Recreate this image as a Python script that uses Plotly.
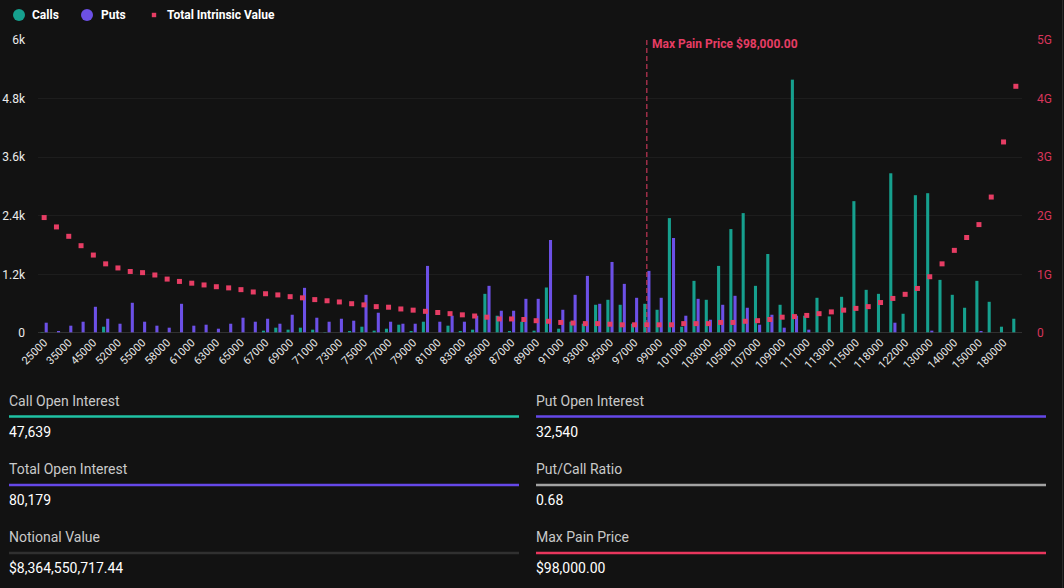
import plotly.graph_objects as go

# ---------------- data ----------------
strikes = [25000, 30000, 35000, 40000, 45000, 50000, 52000, 54000, 55000, 56000,
           58000, 60000] + list(range(61000, 116000, 1000)) + \
          [116000, 118000, 120000, 122000, 125000, 130000, 135000, 140000, 145000,
           150000, 160000, 180000, 200000]

calls = [20, 0, 0, 0, 0, 129, 0, 0, 0, 0,
         0, 0, 0, 0, 0, 0, 0, 0, 48, 109,
         68, 109, 68, 20, 0, 27, 129, 48, 88, 170,
         27, 231, 0, 150, 27, 68, 802, 354, 27, 231,
         48, 932, 88, 231, 190, 578, 680, 578, 190, 598,
         476, 2353, 129, 1068, 680, 1374, 2128, 2455, 966, 1618,
         578, 5188, 354, 721, 340, 741, 2700, 884, 802, 3271,
         394, 2822, 2863, 1088, 782, 517, 1068, 639, 129, 292]

puts = [211, 27, 150, 231, 537, 292, 190, 619, 231, 150,
        109, 598, 150, 170, 88, 190, 313, 231, 292, 190,
        374, 925, 313, 231, 292, 252, 782, 415, 231, 190,
        190, 1374, 231, 354, 231, 354, 966, 456, 456, 700,
        700, 1904, 476, 782, 1170, 598, 1455, 1006, 721, 1272,
        721, 1945, 354, 700, 272, 578, 762, 517, 170, 374,
        109, 354, 68, 0, 0, 0, 0, 0, 0, 211,
        0, 0, 48, 0, 0, 0, 27, 0, 0, 0]

intrinsic_g = [1.97, 1.81, 1.65, 1.49, 1.33, 1.18, 1.11, 1.05, 1.03, 0.99,
               0.92, 0.88, 0.85, 0.82, 0.79, 0.77, 0.74, 0.70, 0.67, 0.65,
               0.62, 0.60, 0.57, 0.55, 0.53, 0.50, 0.48, 0.45, 0.44, 0.41,
               0.39, 0.37, 0.35, 0.33, 0.31, 0.29, 0.27, 0.24, 0.24, 0.23,
               0.21, 0.20, 0.18, 0.17, 0.16, 0.16, 0.15, 0.14, 0.14, 0.14,
               0.14, 0.14, 0.16, 0.16, 0.16, 0.18, 0.18, 0.20, 0.21, 0.23,
               0.27, 0.28, 0.30, 0.33, 0.36, 0.39, 0.42, 0.45, 0.52, 0.59,
               0.66, 0.76, 0.96, 1.18, 1.41, 1.63, 1.85, 2.32, 3.26, 4.21]
intrinsic = [v * 1e9 for v in intrinsic_g]

categories = [str(s) for s in strikes]
tick_labels = categories[::2]

left_ticks = [0, 1200, 2400, 3600, 4800, 6000]
left_tick_text = ["0", "1.2k", "2.4k", "3.6k", "4.8k", "6k"]
right_ticks = [0, 1e9, 2e9, 3e9, 4e9, 5e9]
right_tick_text = ["0", "1G", "2G", "3G", "4G", "5G"]

max_pain = 98000

stats = [
    ("Call Open Interest", "47,639", "#1fc2a4"),
    ("Put Open Interest", "32,540", "#6548e8"),
    ("Total Open Interest", "80,179", "#6548e8"),
    ("Put/Call Ratio", "0.68", "#a3a3a3"),
    ("Notional Value", "$8,364,550,717.44", "#303030"),
    ("Max Pain Price", "$98,000.00", "#e8365d"),
]

# ---------------- style ----------------
BG = "#121212"
TEAL = "#16a08e"
PURPLE = "#6c50e6"
PINK = "#e63d64"
FONT = "Roboto"

W, H = 1064, 588
PL, PR, PT, PB = 38, 1022, 40, 333  # plot area in pixels


def X(px):
    return (px - PL) / (PR - PL)


def Y(py):
    return (PB - py) / (PB - PT)


fig = go.Figure()
fig.add_trace(go.Bar(x=categories, y=calls, name="Calls", marker_color=TEAL,
                     marker_line_width=0, showlegend=False))
fig.add_trace(go.Bar(x=categories, y=puts, name="Puts", marker_color=PURPLE,
                     marker_line_width=0, showlegend=False))
fig.add_trace(go.Scatter(x=categories, y=intrinsic, name="Total Intrinsic Value",
                         mode="markers", yaxis="y2", showlegend=False,
                         marker=dict(symbol="square", size=5, color=PINK)))

shapes = []
annotations = []

# baseline
shapes.append(dict(type="line", xref="paper", yref="y", x0=0, x1=1, y0=0, y1=0,
                   line=dict(color="#3d3d3d", width=1.5)))
# max pain line
mp_idx = strikes.index(max_pain)
shapes.append(dict(type="line", xref="x", yref="paper", x0=mp_idx, x1=mp_idx,
                   y0=0, y1=1, line=dict(color=PINK, width=1, dash="5px,3px")))
annotations.append(dict(x=mp_idx, xref="x", y=Y(44), yref="paper",
                        text="<b>Max Pain Price $%s.00</b>" % format(max_pain, ","),
                        showarrow=False, xanchor="left", yanchor="middle", xshift=3,
                        font=dict(family=FONT, size=12, color=PINK)))

# legend (drawn manually)
legend_items = [("Calls", TEAL, "circle", 19, 32),
                ("Puts", PURPLE, "circle", 87, 101),
                ("Total Intrinsic Value", PINK, "square", 154, 167)]
for name, col, kind, cx, tx in legend_items:
    r = 6 if kind == "circle" else 2.2
    shapes.append(dict(type="circle" if kind == "circle" else "rect",
                       xref="paper", yref="paper",
                       x0=X(cx - r), x1=X(cx + r), y0=Y(15 + r), y1=Y(15 - r),
                       fillcolor=col, line=dict(width=0)))
    annotations.append(dict(x=X(tx), y=Y(15), xref="paper", yref="paper",
                            text="<b>%s</b>" % name, showarrow=False,
                            xanchor="left", yanchor="middle", xshift=-2,
                            font=dict(family=FONT, size=12, color="#ffffff")))

# stats panel
col_x = [(9, 519), (536, 1046)]
row_y = [(401, 416.5, 432), (469, 485, 500), (537, 553, 568)]
for i, (label, value, col) in enumerate(stats):
    r, c = divmod(i, 2)
    x0, x1 = col_x[c]
    ly, liney, vy = row_y[r]
    annotations.append(dict(x=X(x0), y=Y(ly), xref="paper", yref="paper",
                            text=label, showarrow=False, xanchor="left",
                            yanchor="middle", xshift=-2,
                            font=dict(family=FONT, size=14, color="#c9c9c9")))
    annotations.append(dict(x=X(x0), y=Y(vy), xref="paper", yref="paper",
                            text=value, showarrow=False, xanchor="left",
                            yanchor="middle", xshift=-2,
                            font=dict(family=FONT, size=14, color="#ffffff")))
    shapes.append(dict(type="line", xref="paper", yref="paper",
                       x0=X(x0), x1=X(x1), y0=Y(liney), y1=Y(liney),
                       line=dict(color=col, width=2.5)))

# right edge border
shapes.append(dict(type="line", xref="paper", yref="paper",
                   x0=X(1062.5), x1=X(1062.5), y0=Y(0), y1=Y(588),
                   line=dict(color="#2a2a2a", width=1)))

fig.update_layout(
    width=W, height=H,
    margin=dict(l=PL, r=W - PR, t=PT, b=H - PB, pad=0, autoexpand=False),
    paper_bgcolor=BG, plot_bgcolor=BG,
    barmode="group", bargap=0.33, bargroupgap=0.25,
    font=dict(family=FONT, color="#e0e0e0"),
    showlegend=False,
    xaxis=dict(type="category", range=[-0.5, len(categories) - 0.5],
               automargin=False,
               tickmode="array", tickvals=tick_labels,
               ticktext=tick_labels, tickangle=-45, showgrid=False,
               zeroline=False, showline=False, ticks="",
               tickfont=dict(family=FONT, size=11, color="#e6e6e6")),
    yaxis=dict(range=[0, 6000], tickmode="array", tickvals=left_ticks,
               automargin=False,
               ticktext=left_tick_text, showgrid=True, gridcolor="#1d1d1d",
               gridwidth=1, zeroline=False, showline=False, ticks="",
               ticklabelstandoff=12,
               tickfont=dict(family=FONT, size=12, color="#ececec")),
    yaxis2=dict(range=[0, 5e9], overlaying="y", side="right", tickmode="array",
                automargin=False,
                tickvals=right_ticks, ticktext=right_tick_text, showgrid=False,
                zeroline=False, showline=False, ticks="", ticklabelstandoff=14,
                tickfont=dict(family=FONT, size=12, color="#d8355a")),
    shapes=shapes,
    annotations=annotations,
)

fig.write_html("out.html", config={"displayModeBar": False},
               post_script="document.body.style.margin='0';"
                           "document.body.style.overflow='hidden';")
